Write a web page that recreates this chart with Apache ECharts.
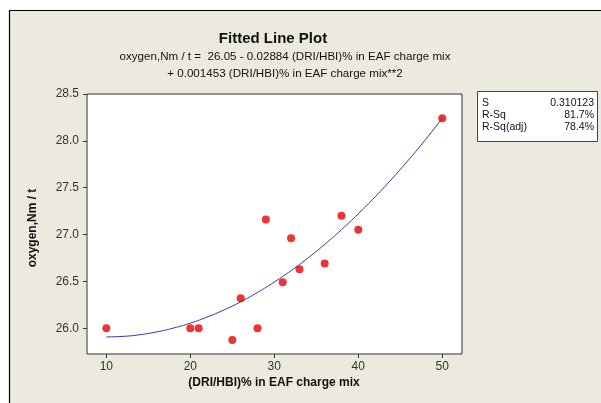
<!DOCTYPE html>
<html><head><meta charset="utf-8">
<script src="https://cdn.jsdelivr.net/npm/echarts@6/dist/echarts.min.js"></script>
<style>html,body{margin:0;padding:0;background:#fff}#c{width:601px;height:403px}</style>
</head><body><div id="c"></div>
<script>
// Observed data points
const pointX = [10, 20, 21, 25, 26, 28, 29, 31, 32, 33, 36, 38, 40, 50];
const pointY = [26.0, 26.0, 26.0, 25.875, 26.32, 26.0, 27.16, 26.49, 26.96, 26.63, 26.69, 27.2, 27.05, 28.24];
// Fitted curve
const fitX = [10, 12, 14, 16, 18, 20, 22, 24, 26, 28, 30, 32, 34, 36, 38, 40, 42, 44, 46, 48, 50];
const fitY = [25.907, 25.913, 25.931, 25.961, 26.002, 26.054, 26.119, 26.195, 26.282, 26.382, 26.493, 26.615, 26.749, 26.895, 27.052, 27.221, 27.402, 27.594, 27.798, 28.013, 28.241];
const xTicks = [10, 20, 30, 40, 50];
const yTicks = [26.0, 26.5, 27.0, 27.5, 28.0, 28.5];
const titleText = 'Fitted Line Plot';
const subText1 = 'oxygen,Nm / t =  26.05 - 0.02884 (DRI/HBI)% in EAF charge mix';
const subText2 = '+ 0.001453 (DRI/HBI)% in EAF charge mix**2';
const xName = '(DRI/HBI)% in EAF charge mix';
const yName = 'oxygen,Nm / t';
const statNames = ['S', 'R-Sq', 'R-Sq(adj)'];
const statValues = ['0.310123', '81.7%', '78.4%'];

const FF = '"Liberation Sans", Arial, sans-serif';
const chart = echarts.init(document.getElementById('c'), null, {renderer: 'canvas'});

const statGraphics = [{
  type: 'rect', shape: {x: 477.5, y: 91.5, width: 120, height: 50},
  style: {fill: '#fff', stroke: '#444', lineWidth: 1}, z: 5
}];
statNames.forEach((n, i) => {
  statGraphics.push({type: 'text', x: 482, y: 98 + i * 12, z: 6,
    style: {text: n, fill: '#111', font: '10.5px ' + FF}});
  statGraphics.push({type: 'text', x: 594, y: 98 + i * 12, z: 6,
    style: {text: statValues[i], fill: '#111', font: '10.5px ' + FF, textAlign: 'right'}});
});

chart.setOption({
  backgroundColor: '#fff',
  animation: false,
  graphic: [
    {type: 'rect', shape: {x: 9.5, y: 10.5, width: 640, height: 440},
     style: {fill: '#ECE9DF', stroke: '#000', lineWidth: 1.2}, z: -100, silent: true},
    {type: 'text', x: 273, y: 31, style: {text: titleText, font: 'bold 15px ' + FF, fill: '#111', textAlign: 'center'}},
    {type: 'text', x: 285, y: 51, style: {text: subText1, font: '11.6px ' + FF, fill: '#111', textAlign: 'center'}},
    {type: 'text', x: 285, y: 68, style: {text: subText2, font: '11.6px ' + FF, fill: '#111', textAlign: 'center'}},
    {type: 'text', x: 274, y: 377, style: {text: xName, font: 'bold 12px ' + FF, fill: '#111', textAlign: 'center'}},
    {type: 'text', x: 27, y: 228, rotation: Math.PI / 2, style: {text: yName, font: 'bold 12px ' + FF, fill: '#111', textAlign: 'center'}},
    ...statGraphics
  ],
  grid: {left: 87, top: 94, right: 139, bottom: 49, show: true, backgroundColor: '#fff', borderColor: '#333', borderWidth: 1},
  xAxis: {
    type: 'value', min: 7.7, max: 52.35,
    axisLine: {show: false},
    splitLine: {show: false},
    axisTick: {show: true, customValues: xTicks, length: 4, lineStyle: {color: '#333'}},
    axisLabel: {customValues: xTicks, color: '#333', fontSize: 12, fontFamily: FF, margin: 7}
  },
  yAxis: {
    type: 'value', min: 25.725, max: 28.5,
    axisLine: {show: false},
    splitLine: {show: false},
    axisTick: {show: true, customValues: yTicks, length: 4, lineStyle: {color: '#333'}},
    axisLabel: {customValues: yTicks, color: '#333', fontSize: 12, fontFamily: FF, margin: 8,
      formatter: v => Number(v).toFixed(1)}
  },
  series: [
    {type: 'line', data: fitX.map((x, i) => [x, fitY[i]]), smooth: true, showSymbol: false,
     lineStyle: {color: '#3434B4', width: 1}, z: 2},
    {type: 'scatter', data: pointX.map((x, i) => [x, pointY[i]]), symbol: 'circle', symbolSize: 8,
     itemStyle: {color: '#E80000'}, z: 3}
  ]
});
</script></body></html>
